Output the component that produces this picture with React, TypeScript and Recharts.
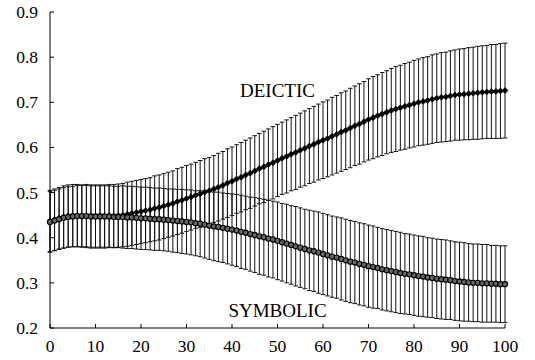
import React from "react";
import { LineChart, Line, XAxis, YAxis, ErrorBar, ReferenceDot } from "recharts";

// x steps 0..100, one reading per step
const steps = Array.from({ length: 101 }, (_, i) => i);

const deicticMean = [
  0.437, 0.440, 0.443, 0.446, 0.448, 0.449, 0.449, 0.448, 0.448, 0.447,
  0.447, 0.447, 0.447, 0.448, 0.448, 0.449, 0.450, 0.452, 0.454, 0.456,
  0.458, 0.460, 0.462, 0.465, 0.467, 0.470, 0.473, 0.476, 0.480, 0.483,
  0.487, 0.490, 0.494, 0.497, 0.501, 0.504, 0.508, 0.512, 0.516, 0.521,
  0.525, 0.530, 0.534, 0.539, 0.543, 0.548, 0.553, 0.557, 0.562, 0.566,
  0.571, 0.576, 0.580, 0.585, 0.589, 0.594, 0.598, 0.603, 0.607, 0.612,
  0.616, 0.620, 0.625, 0.629, 0.634, 0.638, 0.643, 0.648, 0.652, 0.657,
  0.662, 0.666, 0.670, 0.674, 0.678, 0.682, 0.685, 0.688, 0.691, 0.694,
  0.697, 0.700, 0.702, 0.704, 0.707, 0.709, 0.711, 0.712, 0.714, 0.716,
  0.717, 0.718, 0.719, 0.720, 0.721, 0.722, 0.723, 0.724, 0.724, 0.725,
  0.726,
];

const deicticErr = [
  0.068, 0.068, 0.068, 0.069, 0.069, 0.069, 0.069, 0.069, 0.070, 0.070,
  0.070, 0.070, 0.070, 0.070, 0.070, 0.070, 0.070, 0.071, 0.071, 0.071,
  0.071, 0.071, 0.071, 0.072, 0.072, 0.072, 0.072, 0.072, 0.073, 0.073,
  0.073, 0.073, 0.073, 0.074, 0.074, 0.074, 0.074, 0.075, 0.075, 0.076,
  0.076, 0.076, 0.077, 0.077, 0.078, 0.078, 0.078, 0.079, 0.079, 0.080,
  0.080, 0.080, 0.081, 0.081, 0.082, 0.082, 0.083, 0.083, 0.084, 0.084,
  0.085, 0.085, 0.086, 0.086, 0.087, 0.087, 0.088, 0.088, 0.089, 0.089,
  0.090, 0.091, 0.091, 0.092, 0.092, 0.093, 0.094, 0.094, 0.095, 0.095,
  0.096, 0.096, 0.097, 0.097, 0.098, 0.098, 0.099, 0.099, 0.100, 0.100,
  0.101, 0.101, 0.102, 0.102, 0.103, 0.103, 0.103, 0.104, 0.104, 0.105,
  0.105,
];

const symbolicMean = [
  0.435, 0.438, 0.441, 0.444, 0.446, 0.447, 0.448, 0.448, 0.448, 0.447,
  0.447, 0.447, 0.447, 0.447, 0.446, 0.446, 0.446, 0.445, 0.445, 0.444,
  0.443, 0.443, 0.442, 0.441, 0.441, 0.440, 0.439, 0.438, 0.437, 0.436,
  0.435, 0.434, 0.432, 0.431, 0.429, 0.427, 0.425, 0.424, 0.422, 0.420,
  0.418, 0.416, 0.413, 0.411, 0.408, 0.406, 0.403, 0.401, 0.398, 0.396,
  0.393, 0.390, 0.387, 0.384, 0.381, 0.378, 0.375, 0.372, 0.370, 0.367,
  0.364, 0.361, 0.358, 0.356, 0.353, 0.350, 0.347, 0.345, 0.342, 0.340,
  0.337, 0.335, 0.333, 0.330, 0.328, 0.326, 0.324, 0.322, 0.320, 0.319,
  0.317, 0.315, 0.314, 0.312, 0.311, 0.309, 0.308, 0.307, 0.306, 0.304,
  0.303, 0.302, 0.301, 0.300, 0.300, 0.299, 0.299, 0.298, 0.298, 0.297,
  0.297,
];

const symbolicErr = [
  0.067, 0.067, 0.067, 0.067, 0.067, 0.067, 0.068, 0.068, 0.068, 0.068,
  0.068, 0.068, 0.068, 0.068, 0.068, 0.068, 0.069, 0.069, 0.069, 0.069,
  0.069, 0.069, 0.069, 0.069, 0.069, 0.069, 0.069, 0.070, 0.070, 0.071,
  0.071, 0.072, 0.072, 0.073, 0.074, 0.075, 0.076, 0.077, 0.077, 0.078,
  0.079, 0.080, 0.081, 0.081, 0.082, 0.083, 0.084, 0.084, 0.085, 0.085,
  0.086, 0.086, 0.087, 0.087, 0.088, 0.088, 0.088, 0.089, 0.089, 0.090,
  0.090, 0.090, 0.090, 0.090, 0.091, 0.091, 0.091, 0.091, 0.091, 0.091,
  0.091, 0.091, 0.090, 0.090, 0.090, 0.090, 0.090, 0.090, 0.089, 0.089,
  0.089, 0.089, 0.089, 0.088, 0.088, 0.088, 0.088, 0.088, 0.087, 0.087,
  0.087, 0.087, 0.086, 0.086, 0.086, 0.086, 0.086, 0.085, 0.085, 0.085,
  0.085,
];

const xTicks = [0, 10, 20, 30, 40, 50, 60, 70, 80, 90, 100];
const yTicks = [0.2, 0.3, 0.4, 0.5, 0.6, 0.7, 0.8, 0.9];

const data = steps.map((x, i) => ({
  x,
  deictic: deicticMean[i],
  deicticErr: deicticErr[i],
  symbolic: symbolicMean[i],
  symbolicErr: symbolicErr[i],
}));

const FONT = "Liberation Serif";
const axisLine = { stroke: "#000", strokeWidth: 1 };

const XTick = (p: any) => (
  <text x={p.x} y={p.y} dy={12} textAnchor="middle" fontFamily={FONT} fontSize={17.5} fill="#000">
    {p.payload.value}
  </text>
);

const YTick = (p: any) => (
  <text x={p.x} y={p.y} dy={6} textAnchor="end" fontFamily={FONT} fontSize={17.5} fill="#000">
    {Number(p.payload.value).toFixed(1)}
  </text>
);

const seriesLabel = (text: string) => (p: any) => (
  <text x={p.cx} y={p.cy} dy={6} textAnchor="middle" fontFamily={FONT} fontSize={19} fill="#000">
    {text}
  </text>
);

const Diamond = (p: any) => {
  const { cx, cy, index } = p;
  if (cx == null || cy == null) return <g key={`dd-${index}`} />;
  const s = 3;
  return (
    <path
      key={`dd-${index}`}
      d={`M${cx},${cy - s}L${cx + s},${cy}L${cx},${cy + s}L${cx - s},${cy}Z`}
      fill="#000"
      stroke="#000"
      strokeWidth={0.6}
    />
  );
};

const Ring = (p: any) => {
  const { cx, cy, index } = p;
  if (cx == null || cy == null) return <g key={`sd-${index}`} />;
  return <circle key={`sd-${index}`} cx={cx} cy={cy} r={2.6} fill="#666" stroke="#000" strokeWidth={1.1} />;
};

export default function App() {
  return (
    <div style={{ position: "absolute", left: 0, top: 0 }}>
      <LineChart width={535} height={360} data={data} margin={{ top: 12, right: 30, bottom: 0, left: 0 }}>
        <XAxis
          dataKey="x"
          type="number"
          domain={[0, 100]}
          ticks={xTicks}
          height={32}
          tickSize={-4}
          tickMargin={16}
          tick={XTick}
          axisLine={axisLine}
          tickLine={{ stroke: "#000" }}
        />
        <XAxis
          xAxisId="top"
          orientation="top"
          dataKey="x"
          type="number"
          domain={[0, 100]}
          ticks={xTicks}
          height={0}
          tickSize={-4}
          tick={false}
          axisLine={axisLine}
          tickLine={{ stroke: "#000" }}
        />
        <YAxis
          type="number"
          domain={[0.2, 0.9]}
          ticks={yTicks}
          width={50}
          tickSize={-4}
          tickMargin={16}
          tick={YTick}
          axisLine={axisLine}
          tickLine={{ stroke: "#000" }}
        />
        <YAxis
          yAxisId="right"
          orientation="right"
          type="number"
          domain={[0.2, 0.9]}
          ticks={yTicks}
          width={0}
          tickSize={-4}
          tick={false}
          axisLine={axisLine}
          tickLine={{ stroke: "#000" }}
        />
        <Line
          dataKey="deictic"
          stroke="#000"
          strokeWidth={1.5}
          dot={Diamond}
          activeDot={false}
          isAnimationActive={false}
        >
          <ErrorBar dataKey="deicticErr" direction="y" width={2.3} stroke="#111" strokeWidth={1} />
        </Line>
        <Line
          dataKey="symbolic"
          stroke="#000"
          strokeWidth={1.5}
          dot={Ring}
          activeDot={false}
          isAnimationActive={false}
        >
          <ErrorBar dataKey="symbolicErr" direction="y" width={2.3} stroke="#111" strokeWidth={1} />
        </Line>
        <ReferenceDot x={50} y={0.726} r={0} ifOverflow="visible" shape={seriesLabel("DEICTIC")} />
        <ReferenceDot x={50} y={0.238} r={0} ifOverflow="visible" shape={seriesLabel("SYMBOLIC")} />
      </LineChart>
    </div>
  );
}
